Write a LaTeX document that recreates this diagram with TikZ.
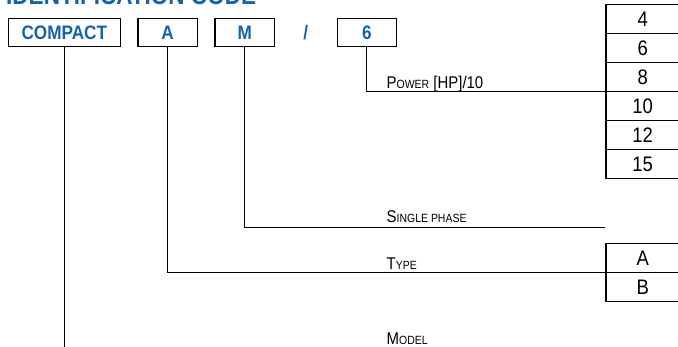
\documentclass[tikz,border=0pt]{standalone}
\usepackage{fontspec}
\setmainfont{Liberation Sans}
\newfontfamily\condfont[FakeStretch=0.88]{Liberation Sans}
\usetikzlibrary{
    positioning % For relative positioning (right=of ..., below=of ...)
}
\definecolor{codeblue}{RGB}{20,98,172}

\begin{document}
\begin{tikzpicture}[
    x=1pt, y=1pt,
    node distance=0pt and 16.4pt, % Stacked table rows, spaced code boxes
    % Define styles
    codebox/.style={rectangle, draw, line width=1.3pt, minimum width=59.3pt, minimum height=28.4pt, inner sep=0pt, text=codeblue, font=\condfont\bfseries\fontsize{19.5}{20}\selectfont}, % Code letter box
    codetext/.style={inner sep=0pt, text=codeblue, font=\condfont\bfseries\fontsize{19.5}{20}\selectfont}, % Free code character
    valuebox/.style={rectangle, draw, line width=1.2pt, minimum width=73.4pt, minimum height=29pt, inner sep=0pt, outer sep=0pt, font=\condfont\fontsize{21}{21}\selectfont}, % Value table row
    fieldlabel/.style={anchor=base west, inner sep=0pt, font=\condfont\fontsize{17}{17}\selectfont}, % Field name
    leader/.style={line width=1pt} % Connector line
]
\newcommand{\smallcap}[1]{{\fontsize{11.9}{12}\selectfont #1}}

\useasboundingbox (0,-347) rectangle (678,0);
\clip (0,-347) rectangle (678,0);

% ----- TITLE (cut off at top) -----
\node (title) [codetext, anchor=base west, font=\condfont\bfseries\fontsize{25.6}{26}\selectfont] at (6,-5) {IDENTIFICATION CODE};

% ----- CODE BOXES -----
\node (code_compact) [codebox, minimum width=112pt] at (64.3,-32.5) {COMPACT};
\node (code_type)    [codebox, right=of code_compact] {A};
\node (code_phase)   [codebox, right=of code_type] {M};
\node (code_power)   [codebox, right=61.6pt of code_phase] {6};
\path (code_phase) -- node (code_slash) [codetext] {/} (code_power);

% ----- VALUE TABLES -----
\node (power_4)  [valuebox] at (642.7,-19.2) {4};
\node (power_6)  [valuebox, below=of power_4] {6};
\node (power_8)  [valuebox, below=of power_6] {8};
\node (power_10) [valuebox, below=of power_8] {10};
\node (power_12) [valuebox, below=of power_10] {12};
\node (power_15) [valuebox, below=of power_12] {15};

\node (type_a) [valuebox] at (642.7,-258.3) {A};
\node (type_b) [valuebox, below=of type_a] {B};

% ----- FIELD LABELS -----
\node (lbl_power) [fieldlabel] at (386.5,-88.5) {P\smallcap{OWER} [HP]/10};
\node (lbl_phase) [fieldlabel] at (386.5,-222.8) {S\smallcap{INGLE PHASE}};
\node (lbl_type)  [fieldlabel] at (386.5,-270) {T\smallcap{YPE}};
\node (lbl_model) [fieldlabel] at (386.5,-344.4) {M\smallcap{ODEL}};

% Free ends of connectors
\coordinate (phase_end) at (605,-227.5);
\coordinate (model_end) at (66,-350);

% Draw connectors
\draw [leader] (code_power.south) |- (power_8.south west);
\draw [leader] (code_phase.south) |- (phase_end);
\draw [leader] (code_type.south) |- (type_a.south west);
\draw [leader] (code_compact.south) -- (code_compact.south |- model_end);

\end{tikzpicture}
\end{document}
